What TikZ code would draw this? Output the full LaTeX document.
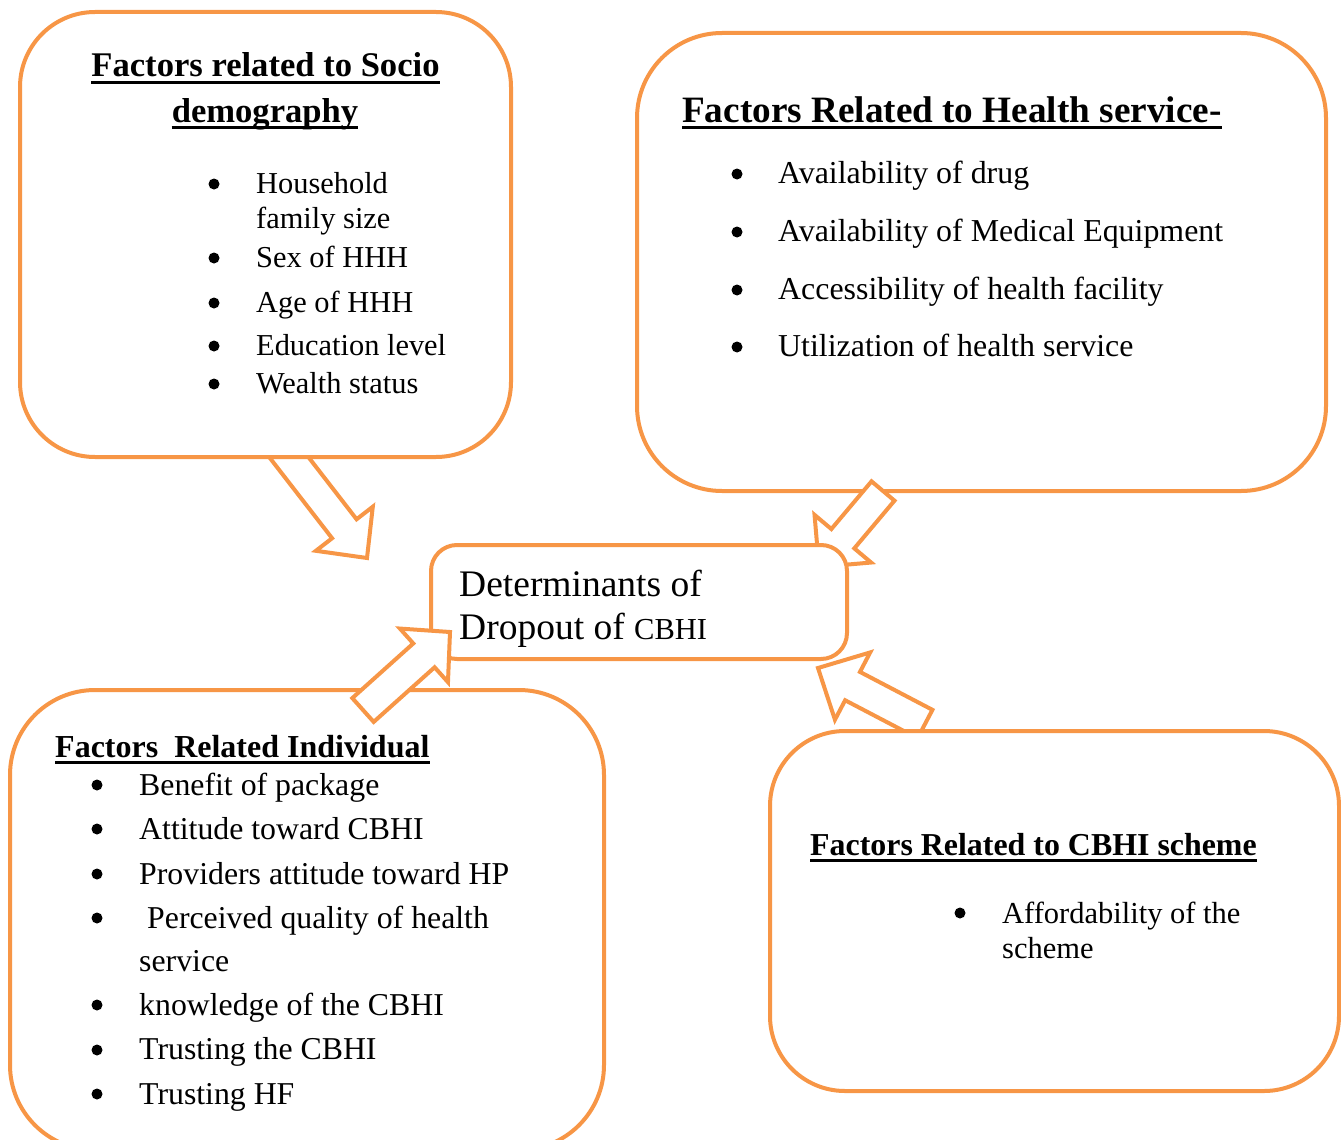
\documentclass[tikz,border=0pt]{standalone}
\usepackage{fontspec}
\setmainfont{Liberation Serif}
\usetikzlibrary{calc}
\definecolor{accent}{RGB}{247,150,70}
\newcommand\fs[1]{\fontsize{#1}{#1}\selectfont}
\tikzset{
  panel/.style={draw=accent, line width=4pt, fill=white, rounded corners=#1, inner sep=0pt},
  blockarr/.style={draw=accent, line width=4pt, fill=white, line join=miter},
  ttl/.style={inner sep=0pt, anchor=base west, font=\bfseries\fs{#1}},
  itm/.style={inner sep=0pt, anchor=base west, font=\fs{#1}},
  ul/.style={line width=3pt, black},
}
% block arrow: name, tail centre, tip, half shaft width, half head width, head length
\newcommand\blockarrow[6]{%
  \coordinate (#1-hb) at ($(#3)!#6!(#2)$);
  \draw[blockarr] ($(#2)!#4!90:(#3)$) -- ($(#1-hb)!#4!90:(#3)$) -- ($(#1-hb)!#5!90:(#3)$)
    -- (#3) -- ($(#1-hb)!#5!-90:(#3)$) -- ($(#1-hb)!#4!-90:(#3)$) -- ($(#2)!#4!-90:(#3)$) -- cycle;
}
\newcommand\uline[1]{\draw[ul] ([yshift=-5pt]#1.base west) -- ([yshift=-5pt]#1.base east);}
\newcommand\bul[2]{\fill (#1,#2) circle (5.5pt);}
\begin{document}
\begin{tikzpicture}[x=1pt,y=-1pt]
\useasboundingbox (0,0) rectangle (1341,1140);
\clip (0,0) rectangle (1341,1140);

% arrow from the socio-demography panel (its tail tucked under the panel)
\coordinate (a1t) at (281,447); \coordinate (a1h) at (367,558);
\blockarrow{a1}{a1t}{a1h}{15.5pt}{36pt}{37pt}

% outer panels
\node[panel=75pt, minimum width=491pt, minimum height=445pt] (b1) at (265.5,234.5) {};
\node[panel=85pt, minimum width=689pt, minimum height=458pt] (b2) at (981.5,262) {};
\node[panel=85pt, minimum width=594pt, minimum height=460pt] (b3) at (307,920) {};

\coordinate (a2t) at (883,491); \coordinate (a2h) at (819,567);
\blockarrow{a2}{a2t}{a2h}{15pt}{37pt}{37pt}

% centre box
\node[panel=26pt, minimum width=416pt, minimum height=114pt] (c) at (639,602) {};

\coordinate (a3t) at (363,710); \coordinate (a3h) at (450,632);
\blockarrow{a3}{a3t}{a3h}{16pt}{36pt}{35pt}
\coordinate (a4t) at (925,724); \coordinate (a4h) at (818,668);
\blockarrow{a4}{a4t}{a4h}{16pt}{38pt}{39pt}

\node[panel=75pt, minimum width=569pt, minimum height=360pt] (b4) at (1054.5,911) {};

% panel 1: socio-demography
\node[ttl=34.6, anchor=base] (t1a) at (265.5,77) {Factors related to Socio};
\node[ttl=34.6, anchor=base] (t1b) at (265,122) {demography};
\uline{t1a}\uline{t1b}
\node[itm=30.4] (s1) at (256,193) {Household};
\node[itm=30.4] (s1b) at (256,228) {family size};
\node[itm=30.4] (s2) at (256,267) {Sex of HHH};
\node[itm=30.4] (s3) at (256,312) {Age of HHH};
\node[itm=30.4] (s4) at (256,355) {Education level};
\node[itm=30.4] (s5) at (256,393) {Wealth status};
\bul{214}{184}\bul{214}{258}\bul{214}{303}\bul{214}{346}\bul{214}{384}

% panel 2: health service
\node[ttl=37.2] (t2) at (682,122) {Factors Related to Health service-};
\uline{t2}
\node[itm=31.9] (h1) at (778,183) {Availability of drug};
\node[itm=31.9] (h2) at (778,241) {Availability of Medical Equipment};
\node[itm=31.9] (h3) at (778,299) {Accessibility of health facility};
\node[itm=31.9] (h4) at (778,356) {Utilization of health service};
\bul{737}{174}\bul{737}{232}\bul{737}{290}\bul{737}{347}

% panel 3: individual
\node[ttl=32] (t3) at (55,757) {Factors\ \ Related Individual};
\uline{t3}
\node[itm=31.8] (i1) at (139,795) {Benefit of package};
\node[itm=31.8] (i2) at (139,839) {Attitude toward CBHI};
\node[itm=31.8] (i3) at (139,884) {Providers attitude toward HP};
\node[itm=31.8] (i4) at (147,928) {Perceived quality of health};
\node[itm=31.8] (i4b) at (139,971) {service};
\node[itm=31.8] (i5) at (139,1015) {knowledge of the CBHI};
\node[itm=31.8] (i6) at (139,1059) {Trusting the CBHI};
\node[itm=31.8] (i7) at (139,1104) {Trusting HF};
\bul{97}{785}\bul{97}{829}\bul{97}{874}\bul{97}{918}\bul{97}{1005}\bul{97}{1050}\bul{97}{1094}

% panel 4: scheme
\node[ttl=31.9] (t4) at (810,855) {Factors Related to CBHI scheme};
\uline{t4}
\node[itm=30.5] (k1) at (1002,923) {Affordability of the};
\node[itm=30.5] (k1b) at (1002,958) {scheme};
\bul{960}{913}

% centre text
\node[itm=37.5] (c1) at (459,596) {Determinants of};
\node[itm=37.5] (c2) at (459,639) {Dropout of {\fs{30.5}CBHI}};
\end{tikzpicture}
\end{document}
